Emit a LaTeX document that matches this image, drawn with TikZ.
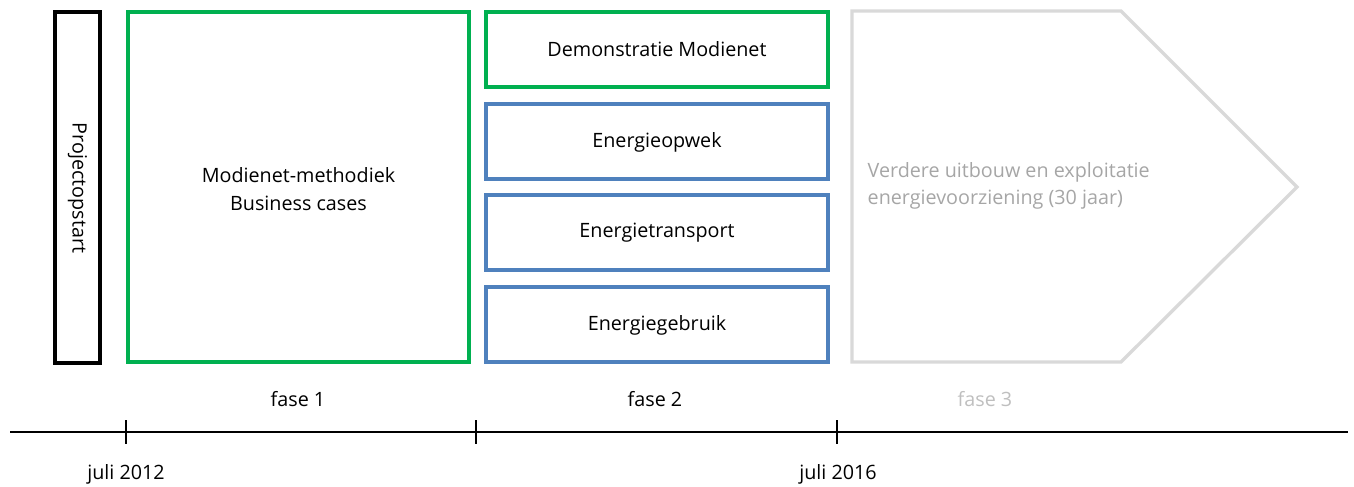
\documentclass[tikz,border=0pt]{standalone}
\usepackage{fontspec}
\setmainfont{Open Sans}
\definecolor{fasegreen}{HTML}{00B050}
\definecolor{faseblue}{HTML}{4F81BD}
\definecolor{faselight}{HTML}{D9D9D9}
\definecolor{fasegreytext}{HTML}{A6A6A6}
\definecolor{fase3text}{HTML}{BFBFBF}
\begin{document}
\begin{tikzpicture}[x=0.75pt,y=-0.75pt,
  box/.style={draw, line width=2.5pt, inner sep=0pt},
  greenbox/.style={box, draw=fasegreen},
  bluebox/.style={box, draw=faseblue},
  lbl/.style={font=\fontsize{14.8}{20.5}\selectfont, text=black},
  axis/.style={line width=1.5pt, draw=black},
  tick/.style={line width=1.5pt, draw=black}]
\useasboundingbox (0,0) rectangle (1354,486);
% project start bar
\draw[box, draw=black] (55,12) rectangle (100,363);
\node[lbl, rotate=-90] (start) at (77.5,188) {Projectopstart};
% phase 1
\draw[greenbox] (128,12) rectangle (469,362);
\node[lbl, align=center] (f1text) at (298.5,189) {Modienet-methodiek\\Business cases};
% phase 2
\draw[greenbox] (486,12) rectangle (828,87);
\node[lbl] (demo) at (657,49) {Demonstratie Modienet};
\draw[bluebox] (486,104) rectangle (828,179);
\node[lbl] (opwek) at (657,142) {Energieopwek};
\draw[bluebox] (486,195) rectangle (828,270);
\node[lbl] (transport) at (657,233) {Energietransport};
\draw[bluebox] (486,287) rectangle (828,362);
\node[lbl] (gebruik) at (657,325) {Energiegebruik};
% phase 3 arrow
\draw[line width=2.5pt, draw=faselight] (852,11) -- (1121,11) -- (1297,187) -- (1121,362) -- (852,362) -- cycle;
\node[lbl, text=fasegreytext, align=left, anchor=west] (f3text) at (863,186) {Verdere uitbouw en exploitatie\\energievoorziening (30 jaar)};
% phase labels
\node[lbl] (fase1) at (298,399) {fase 1};
\node[lbl] (fase2) at (655,399) {fase 2};
\node[lbl, text=fase3text] (fase3) at (985,399) {fase 3};
% timeline
\coordinate (tl) at (10,432);
\coordinate (tr) at (1348,432);
\draw[axis] (tl) -- (tr);
\coordinate (t1) at (126,432);
\coordinate (t2) at (476,432);
\coordinate (t3) at (837,432);
\foreach \t in {t1,t2,t3} \draw[tick] ([yshift=9pt]\t) -- ([yshift=-9pt]\t);
\node[lbl] (d1) at (126,474) {juli 2012};
\node[lbl] (d2) at (838,474) {juli 2016};
\end{tikzpicture}
\end{document}
